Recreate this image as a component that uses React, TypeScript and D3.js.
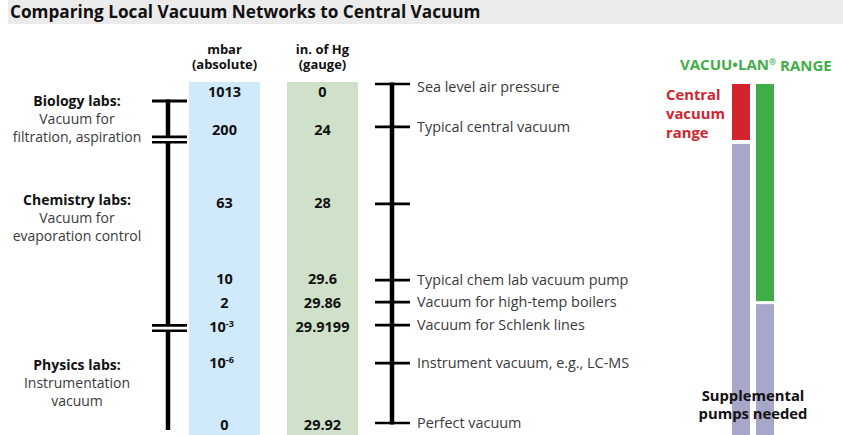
import React from 'react';
import * as d3 from 'd3';

// rows of the schematic pressure scale (0 = top row, 1 = bottom row)
const rowPos = [0, 0.114, 0.333, 0.562, 0.634, 0.706, 0.814, 1];
const mbarBase = ['1013', '200', '63', '10', '2', '10', '10', '0'];
const mbarExp = ['', '', '', '', '', '-3', '-6', ''];
const hgValues = ['0', '24', '28', '29.6', '29.86', '29.9199', '', '29.92'];

// right hand annotations
const markerPos = [-0.024, 0.105, 0.336, 0.565, 0.631, 0.7, 0.814, 0.994];
const markerLabels = [
  'Sea level air pressure',
  'Typical central vacuum',
  '',
  'Typical chem lab vacuum pump',
  'Vacuum for high-temp boilers',
  'Vacuum for Schlenk lines',
  'Instrument vacuum, e.g., LC-MS',
  'Perfect vacuum'
];

// left hand lab groups
const labTitles = ['Biology labs:', 'Chemistry labs:', 'Physics labs:'];
const labLines = [
  ['Vacuum for', 'filtration, aspiration'],
  ['Vacuum for', 'evaporation control'],
  ['Instrumentation', 'vacuum']
];
const labPos = [0.027, 0.324, 0.82];
const labBounds = [0.027, 0.143, 0.709, 1.015];

// range bars
const centralRange = [-0.024, 0.144];
const centralRest = [0.156, 1.03];
const lanRange = [-0.024, 0.628];
const lanRest = [0.637, 1.03];

const W = 843;
const H = 435;
const FONT = '"Open Sans", "Noto Sans", sans-serif';

export default function App() {
  const y = d3.scaleLinear().domain([0, 1]).range([92, 425]);
  const colTop = y(-0.03);

  const blueX = 189, blueW = 71;
  const greenX = 287, greenW = 71;
  const leftAxisX = 168;
  const rightAxisX = 392;

  const bar = (x: number, r: number[], color: string, key: string) => (
    <rect key={key} x={x} y={y(r[0])} width={18} height={y(r[1]) - y(r[0])} fill={color} />
  );

  return (
    <svg width={W} height={H} style={{ position: 'absolute', left: 0, top: 0 }} fontFamily={FONT}>
      {/* title band */}
      <rect x={8} y={0} width={W - 8} height={24} fill="#ebebeb" />
      <text x={10} y={18} fontSize={17.2} fontWeight={700} fill="#111">
        Comparing Local Vacuum Networks to Central Vacuum
      </text>

      {/* column headers */}
      <g fontSize={13} fontWeight={700} fill="#111" textAnchor="middle">
        <text x={blueX + blueW / 2} y={54}>mbar</text>
        <text x={blueX + blueW / 2} y={69}>(absolute)</text>
        <text x={greenX + greenW / 2} y={54}>in. of Hg</text>
        <text x={greenX + greenW / 2} y={69}>(gauge)</text>
      </g>

      {/* value columns */}
      <rect x={blueX} y={colTop} width={blueW} height={H - colTop} fill="#d1eafb" />
      <rect x={greenX} y={colTop} width={greenW} height={H - colTop} fill="#cfe2c9" />

      <g fontSize={14.5} fontWeight={700} fill="#111" textAnchor="middle">
        {rowPos.map((p, i) => (
          <text key={'m' + i} x={blueX + blueW / 2 + (mbarExp[i] ? -3 : 0)} y={y(p)} dy="0.35em">
            {mbarBase[i]}
            {mbarExp[i] && (
              <tspan fontSize={9} dy="-0.55em">{mbarExp[i]}</tspan>
            )}
          </text>
        ))}
        {rowPos.map((p, i) =>
          hgValues[i] ? (
            <text key={'h' + i} x={greenX + greenW / 2} y={y(p)} dy="0.35em">
              {hgValues[i]}
            </text>
          ) : null
        )}
      </g>

      {/* left axis with breaks */}
      <g stroke="#000">
        {labBounds.slice(0, -1).map((b, i) => (
          <line
            key={'ls' + i}
            x1={leftAxisX}
            x2={leftAxisX}
            y1={y(b) + (i === 0 ? -1.5 : 2.7)}
            y2={y(labBounds[i + 1]) - (i === labBounds.length - 2 ? 0 : 2.7)}
            strokeWidth={4.5}
          />
        ))}
        <line x1={152} x2={187} y1={y(labBounds[0])} y2={y(labBounds[0])} strokeWidth={3} />
        {labBounds.slice(1, -1).map((b, i) => (
          <g key={'lb' + i}>
            <line x1={152} x2={187} y1={y(b) - 2.7} y2={y(b) - 2.7} strokeWidth={2.6} />
            <line x1={152} x2={187} y1={y(b) + 2.7} y2={y(b) + 2.7} strokeWidth={2.6} />
          </g>
        ))}
      </g>

      {/* lab labels */}
      <g textAnchor="middle" fontSize={14}>
        {labTitles.map((t, i) => (
          <g key={'lab' + i}>
            <text x={77} y={y(labPos[i])} dy="0.35em" fontWeight={700} fill="#111">{t}</text>
            {labLines[i].map((l, j) => (
              <text key={j} x={77} y={y(labPos[i]) + 18 * (j + 1)} dy="0.35em" fill="#3a3a3a">{l}</text>
            ))}
          </g>
        ))}
      </g>

      {/* right axis */}
      <g stroke="#000">
        <line
          x1={rightAxisX}
          x2={rightAxisX}
          y1={y(markerPos[0]) - 1.5}
          y2={y(markerPos[markerPos.length - 1]) + 1.5}
          strokeWidth={4.5}
        />
        {markerPos.map((p, i) => (
          <line key={'rt' + i} x1={375} x2={410} y1={y(p)} y2={y(p)} strokeWidth={2.7} />
        ))}
      </g>
      <g fontSize={14.4} fill="#3a3a3a">
        {markerPos.map((p, i) =>
          markerLabels[i] ? (
            <text key={'rl' + i} x={417} y={y(p) + (i === 0 ? 3 : 0)} dy="0.35em">
              {markerLabels[i]}
            </text>
          ) : null
        )}
      </g>

      {/* range bars */}
      <text x={680} y={65} dy="0.35em" fontSize={15} fontWeight={700} fill="#3fae49">
        VACUU•LAN
        <tspan fontSize={8.5} dy="-0.6em">®</tspan>
        <tspan dy="0.42em"> RANGE</tspan>
      </text>
      {bar(732, centralRange, '#d2232e', 'c1')}
      {bar(732, centralRest, '#a7a7c9', 'c2')}
      {bar(756, lanRange, '#40ad4a', 'g1')}
      {bar(756, lanRest, '#a7a7c9', 'g2')}

      <g fontSize={14.8} fontWeight={700} fill="#d2232e">
        {['Central', 'vacuum', 'range'].map((t, i) => (
          <text key={'cr' + i} x={666} y={95 + i * 19} dy="0.35em">{t}</text>
        ))}
      </g>
      <g fontSize={14.8} fontWeight={700} fill="#111" textAnchor="middle">
        <text x={753} y={396} dy="0.35em">Supplemental</text>
        <text x={753} y={414} dy="0.35em">pumps needed</text>
      </g>
    </svg>
  );
}
